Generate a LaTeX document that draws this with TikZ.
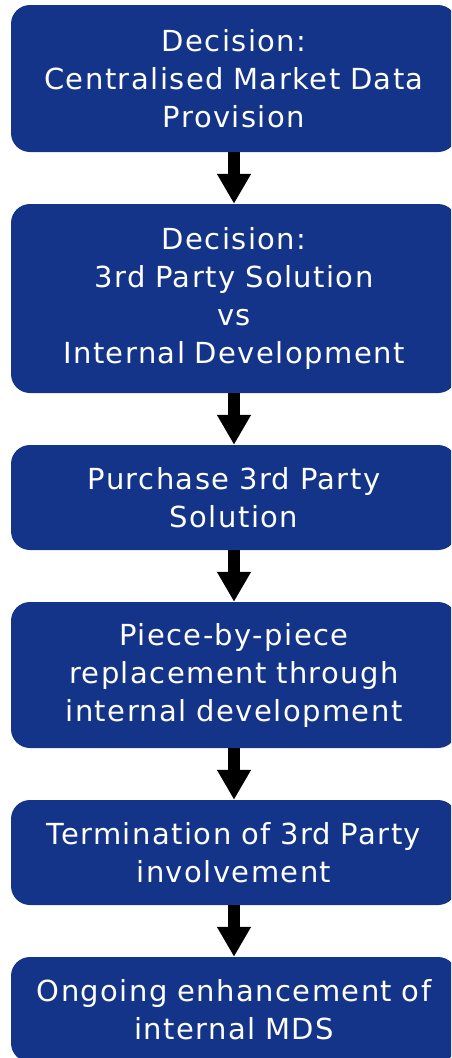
\documentclass[tikz,border=0pt]{standalone}
\usepackage{fontspec}
\setmainfont{DejaVu Sans}[LetterSpace=5]
\usetikzlibrary{arrows.meta}
\definecolor{boxblue}{RGB}{20,52,138}
\tikzset{
  stepbox/.style={fill=boxblue, draw=none, rounded corners=19pt, minimum width=446pt,
    text width=440pt, align=center, text=white, inner sep=0pt,
    font=\fontsize{29pt}{38pt}\selectfont},
  flow/.style={line width=12pt, -{Triangle[width=32pt,length=30pt]}, black}
}
\begin{document}
\begin{tikzpicture}[x=1pt,y=1pt]
\useasboundingbox (0,0) rectangle (451,-1058);
\clip (0,0) rectangle (451,-1058);
\node[stepbox, minimum height=147pt] (a) at (234,-78.5) {Decision:\\Centralised Market Data\\Provision};
\node[stepbox, minimum height=189pt] (b) at (234,-298.5) {Decision:\\3rd Party Solution\\vs\\Internal Development};
\node[stepbox, minimum height=105pt] (c) at (234,-497.5) {Purchase 3rd Party\\Solution};
\node[stepbox, minimum height=146pt] (d) at (234,-675) {Piece-by-piece\\replacement through\\internal development};
\node[stepbox, minimum height=105pt] (e) at (234,-852.5) {Termination of 3rd Party\\involvement};
\node[stepbox, minimum height=105pt] (f) at (234,-1009.5) {Ongoing enhancement of\\internal MDS};
\draw[flow] (a.south) -- (b.north);
\draw[flow] (b.south) -- (c.north);
\draw[flow] (c.south) -- (d.north);
\draw[flow] (d.south) -- (e.north);
\draw[flow] (e.south) -- (f.north);
\end{tikzpicture}
\end{document}
